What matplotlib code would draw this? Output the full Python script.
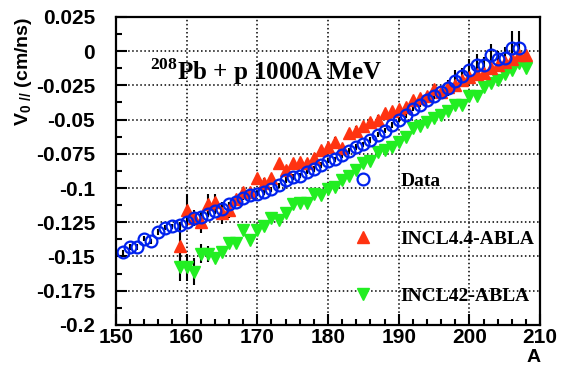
import matplotlib
matplotlib.use("Agg")
import matplotlib.pyplot as plt
from matplotlib.lines import Line2D
from matplotlib.ticker import MultipleLocator
import numpy as np

# mass number A and longitudinal velocity V0// (cm/ns)
a_data = list(range(151, 208))
v_data = [-0.147, -0.143, -0.143, -0.137, -0.139, -0.132, -0.129, -0.128, -0.127, -0.125,
          -0.122, -0.121, -0.119, -0.117, -0.115, -0.112, -0.110, -0.107, -0.105, -0.104,
          -0.103, -0.101, -0.098, -0.094, -0.092, -0.091, -0.088, -0.086, -0.083, -0.080,
          -0.079, -0.076, -0.073, -0.070, -0.068, -0.065, -0.061, -0.058, -0.054, -0.050,
          -0.047, -0.042, -0.039, -0.036, -0.033, -0.030, -0.027, -0.022, -0.018, -0.014,
          -0.010, -0.010, -0.003, -0.006, -0.005, 0.002, 0.002]
err_data = [0.002] * 46 + [0.006, 0.008, 0.006, 0.008, 0.008, 0.006, 0.008, 0.006, 0.008,
                           0.013, 0.013]

a_incl44 = list(range(159, 209))
v_incl44 = [-0.142, -0.116, -0.122, -0.125, -0.112, -0.110, -0.118, -0.116, -0.108, -0.103,
            -0.103, -0.093, -0.096, -0.093, -0.082, -0.087, -0.082, -0.081, -0.082, -0.078,
            -0.072, -0.070, -0.066, -0.071, -0.060, -0.058, -0.055, -0.052, -0.050, -0.045,
            -0.044, -0.042, -0.041, -0.036, -0.034, -0.033, -0.028, -0.030, -0.026, -0.025,
            -0.021, -0.019, -0.017, -0.016, -0.012, -0.010, -0.008, -0.006, -0.003, -0.003]
err_incl44 = [0.016, 0.012, 0.006, 0.008, 0.008, 0.006, 0.008, 0.006] + [0.003] * 42

a_incl42 = list(range(159, 209))
v_incl42 = [-0.158, -0.158, -0.161, -0.148, -0.148, -0.151, -0.147, -0.140, -0.140, -0.131,
            -0.138, -0.131, -0.128, -0.122, -0.123, -0.118, -0.112, -0.111, -0.111, -0.104,
            -0.105, -0.101, -0.099, -0.094, -0.091, -0.087, -0.082, -0.080, -0.074, -0.072,
            -0.070, -0.066, -0.063, -0.056, -0.055, -0.052, -0.049, -0.047, -0.044, -0.039,
            -0.039, -0.033, -0.033, -0.026, -0.023, -0.021, -0.017, -0.014, -0.009, -0.012]
err_incl42 = [0.010, 0.010, 0.010, 0.007, 0.006] + [0.002] * 45

labels = ["Data", "INCL4.4-ABLA", "INCL42-ABLA"]

plt.rcParams["mathtext.fontset"] = "custom"
plt.rcParams["mathtext.rm"] = "Liberation Serif:bold"
plt.rcParams["mathtext.sf"] = "Liberation Sans:bold"

sans = "Liberation Sans"
serif = "Liberation Serif"

fig = plt.figure(figsize=(5.68, 3.68), dpi=100)
ax = fig.add_axes([0.204, 0.117, 0.747, 0.837])

# error bars first, markers on top
ax.errorbar(a_incl42, v_incl42, yerr=err_incl42, fmt="none", ecolor="black", elinewidth=1.5)
ax.errorbar(a_incl44, v_incl44, yerr=err_incl44, fmt="none", ecolor="black", elinewidth=1.5)
ax.errorbar(a_data, v_data, yerr=err_data, fmt="none", ecolor="black", elinewidth=1.5)

ax.plot(a_incl42, v_incl42, "v", color="#22ee22", ms=8, mec="#22ee22", ls="none")
ax.plot(a_incl44, v_incl44, "^", color="#ff3311", ms=8, mec="#ff3311", ls="none")
ax.plot(a_data, v_data, "o", mfc="none", mec="#0022ee", mew=1.6, ms=8.5, ls="none")

ax.set_xlim(150, 210)
ax.set_ylim(-0.2, 0.025)
ax.xaxis.set_minor_locator(MultipleLocator(2))
ax.yaxis.set_minor_locator(MultipleLocator(0.0125))
ax.set_xticks(np.arange(150, 211, 10))
ax.set_xticklabels([str(v) for v in range(150, 211, 10)])
yt = np.arange(-0.2, 0.026, 0.025)
ax.set_yticks(yt)
ax.set_yticklabels(["-0.2", "-0.175", "-0.15", "-0.125", "-0.1", "-0.075", "-0.05",
                    "-0.025", "0", "0.025"])

ax.tick_params(which="both", direction="in", top=False, right=False, width=1.5)
ax.tick_params(which="major", length=8)
ax.tick_params(which="minor", length=4)
ax.tick_params(axis="y", pad=15)
ax.tick_params(axis="x", pad=2)
for lab in ax.get_xticklabels() + ax.get_yticklabels():
    lab.set_fontfamily(sans)
    lab.set_fontweight("bold")
    lab.set_fontsize(15)
for sp in ax.spines.values():
    sp.set_linewidth(1.6)

ax.grid(True, which="major", linestyle=":", color="black", linewidth=1.1)

ax.set_ylabel(r"V$_{\mathsf{0\ //}}$ (cm/ns)", loc="top", fontfamily=sans,
              fontweight="bold", fontsize=14)
ax.yaxis.set_label_coords(-0.192, 1.0)
ax.set_xlabel("A", loc="right", fontfamily=sans, fontweight="bold", fontsize=14)
ax.xaxis.set_label_coords(1.0, -0.078)

ax.text(0.080, 0.795, r"$^{208}$Pb + p 1000A MeV", transform=ax.transAxes,
        fontfamily=serif, fontweight="bold", fontsize=18, va="baseline")

handles = [
    Line2D([], [], marker="o", mfc="none", mec="#0022ee", mew=1.6, ms=8.5, ls="none"),
    Line2D([], [], marker="^", color="#ff3311", ms=8, ls="none"),
    Line2D([], [], marker="v", color="#22ee22", ms=8, ls="none"),
]
ax.legend(handles, labels, loc="upper left", bbox_to_anchor=(0.560, 0.495),
          frameon=False, borderpad=0, borderaxespad=0, handlelength=1.0,
          handletextpad=1.4, labelspacing=2.05,
          prop={"family": serif, "weight": "bold", "size": 14})

fig.savefig("out.png", dpi=100)
